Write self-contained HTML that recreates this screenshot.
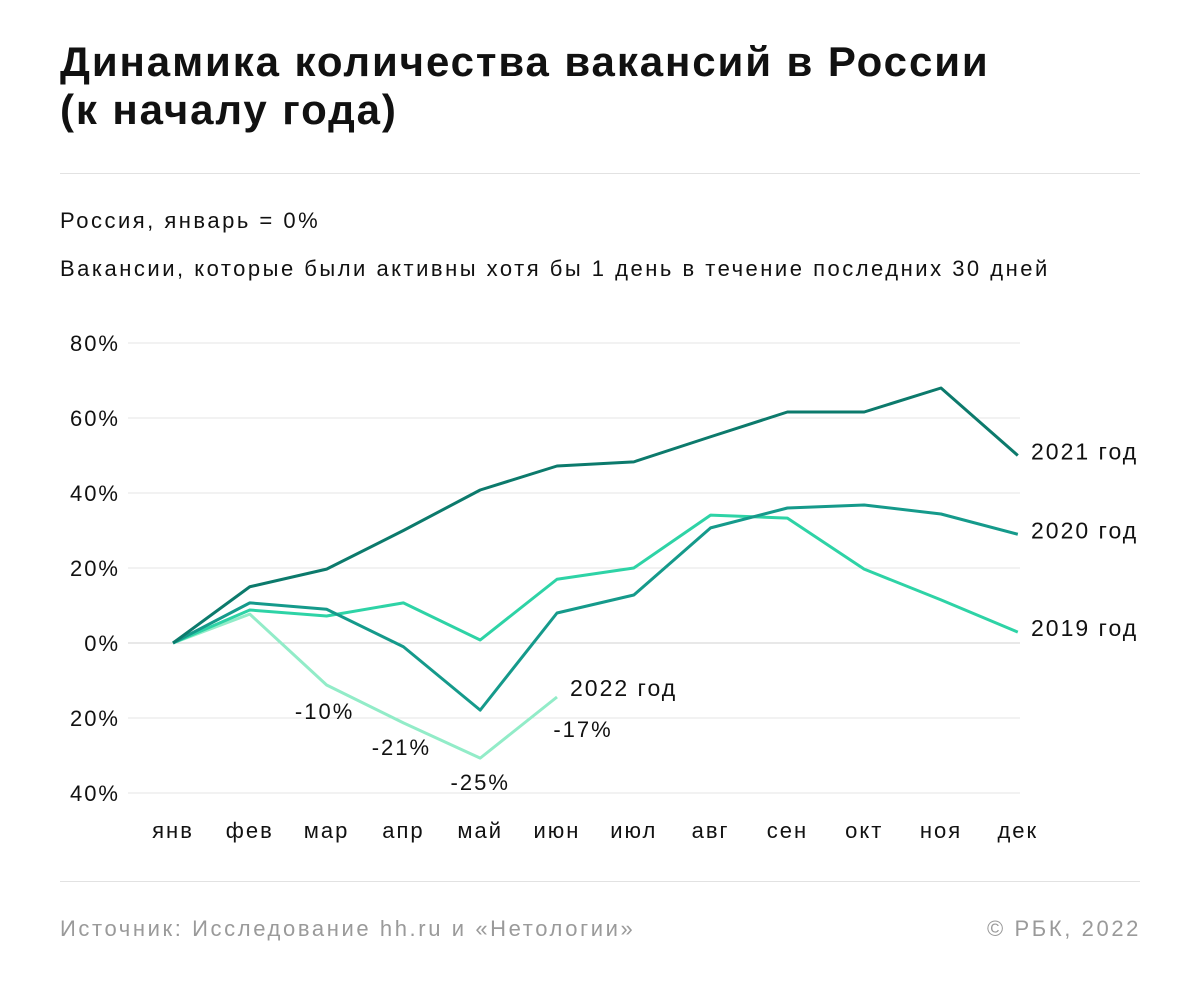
<!DOCTYPE html>
<html><head><meta charset="utf-8">
<style>
body{margin:0;background:#fff;font-family:"Liberation Sans","DejaVu Sans",sans-serif;color:#111;}
#wrap{position:relative;width:1200px;height:987px;overflow:hidden;}
h1{position:absolute;left:60px;top:38px;margin:0;font-size:42px;line-height:48px;font-weight:bold;letter-spacing:1.9px;}
.sub{position:absolute;left:60px;font-size:22px;color:#111;letter-spacing:2.5px;}
.rule{position:absolute;left:60px;width:1080px;height:1px;background:#e2e2e2;}
.foot{position:absolute;top:916px;font-size:22px;color:#9a9a9a;letter-spacing:2.6px;}
svg text{letter-spacing:2px;}
</style></head><body>
<div id="wrap">
<h1>Динамика количества вакансий в России<br>(к началу года)</h1>
<div class="rule" style="top:173px"></div>
<div class="sub" style="top:208px">Россия, январь = 0%</div>
<div class="sub" style="top:256px">Вакансии, которые были активны хотя бы 1 день в течение последних 30 дней</div>
<svg id="chart" width="1200" height="987" style="position:absolute;left:0;top:0"></svg>
<div class="rule" style="top:881px"></div>
<div class="foot" style="left:60px">Источник: Исследование hh.ru и «Нетологии»</div>
<div class="foot" style="right:59px">© РБК, 2022</div>
</div>
<script>
const months=["янв","фев","мар","апр","май","июн","июл","авг","сен","окт","ноя","дек"];
const yTicks=[80,60,40,20,0,-20,-40];
const yTickLabels=["80%","60%","40%","20%","0%","20%","40%"];
const s2021=[0,15,19.7,30,40.8,47.2,48.3,55,61.6,61.6,68,50];
const s2020=[0,10.7,9,-1,-17.9,8,12.8,30.7,36,36.8,34.4,29];
const s2019=[0,8.8,7.2,10.7,0.8,17,20,34.1,33.3,19.7,11.5,2.9];
const s2022=[0,7.7,-11.2,-21.3,-30.7,-14.4];
const labels2022=["","","-10%","-21%","-25%","-17%"];
const NS="http://www.w3.org/2000/svg";
const svg=document.getElementById('chart');
const x=i=>173+i*76.8;
const y=v=>643-v*3.75;
function mk(t,a){const e=document.createElementNS(NS,t);for(const k in a)e.setAttribute(k,a[k]);svg.appendChild(e);return e;}
yTicks.forEach((v,i)=>{
 const g=mk('line',{x1:128,x2:1020,y1:y(v),y2:y(v),stroke:v===0?'#d0d0d0':'#e4e4e4','stroke-width':1});
 
 
 const t=mk('text',{x:120,y:y(v)+8,'text-anchor':'end','font-size':22,fill:'#111'});
 t.textContent=yTickLabels[i];
 
 
});
months.forEach((m,i)=>{
 const t=mk('text',{x:x(i),y:838,'text-anchor':'middle','font-size':22,fill:'#111'});
 t.textContent=m;
 
 
});
function series(d,color,name,label,lx,ly){
 const p=mk('polyline',{points:d.map((v,i)=>x(i)+','+y(v)).join(' '),fill:'none',stroke:color,'stroke-width':3,'stroke-linejoin':'round'});
 
 
 const t=mk('text',{x:lx,y:ly,'font-size':23,fill:'#111'});
 t.textContent=label;
 
 
}
series(s2022,'#92ecc8','line-2022','2022 год',570,696);
series(s2019,'#2ed3a6','line-2019','2019 год',1031,y(s2019[11])+4);
series(s2020,'#159a8b','line-2020','2020 год',1031,y(s2020[11])+4);
series(s2021,'#0c7a6c','line-2021','2021 год',1031,y(s2021[11])+4);
const off=[[0,0],[0,0],[-2,40],[-2,38],[0,38],[26,46]];
labels2022.forEach((l,i)=>{
 if(!l)return;
 const t=mk('text',{x:x(i)+off[i][0],y:y(s2022[i])+off[i][1]-6,'text-anchor':'middle','font-size':22,fill:'#111'});
 t.textContent=l;
 
 
});
</script>
</body></html>
